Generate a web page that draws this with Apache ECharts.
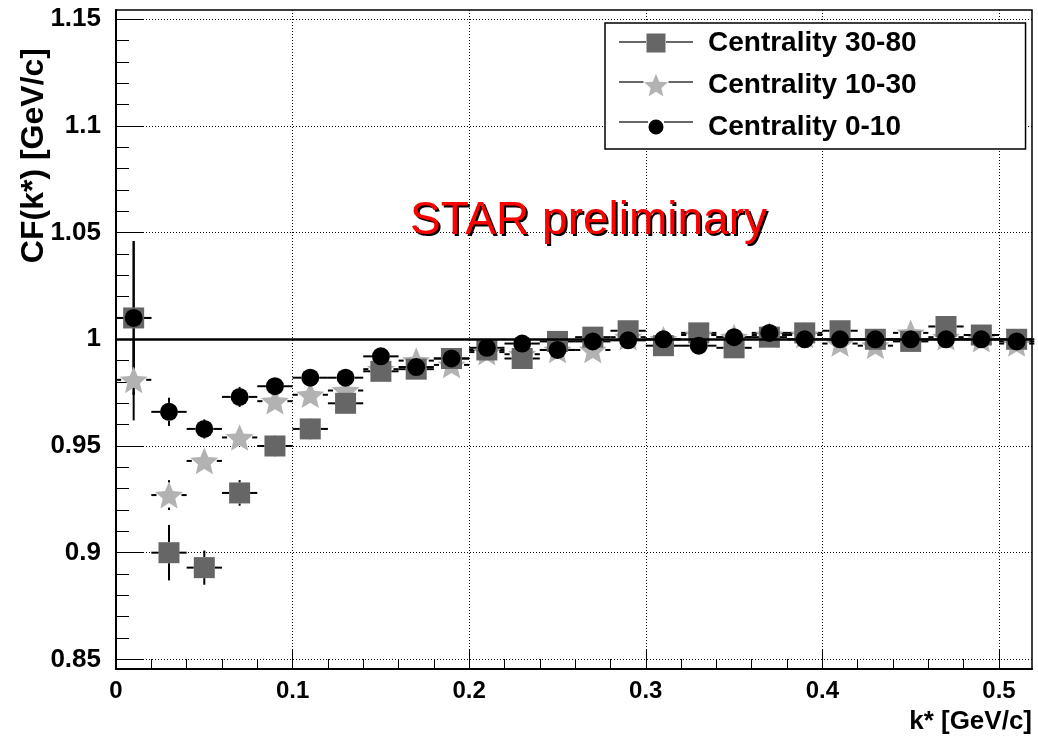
<!DOCTYPE html>
<html>
<head>
<meta charset="utf-8">
<script src="https://cdn.jsdelivr.net/npm/echarts@6/dist/echarts.min.js"></script>
<style>
html,body{margin:0;padding:0;background:#fff;}
#c{width:1038px;height:743px;}
</style>
</head>
<body>
<div id="c"></div>
<script>
// ---------------- data ----------------
const kStar = [0.01,0.03,0.05,0.07,0.09,0.11,0.13,0.15,0.17,0.19,0.21,0.23,0.25,0.27,0.29,0.31,0.33,0.35,0.37,0.39,0.41,0.43,0.45,0.47,0.49,0.51];
const seriesNames = ['Centrality 30-80','Centrality 10-30','Centrality 0-10'];

const cf3080  = [1.010,0.900,0.893,0.928,0.950,0.958,0.970,0.985,0.986,0.991,0.995,0.991,0.999,1.001,1.004,0.997,1.003,0.996,1.001,1.003,1.004,1.000,0.999,1.006,1.002,1.000];
const err3080 = [0.036,0.013,0.008,0.006,0.005,0.005,0.0045,0.004,0.004,0.004,0.004,0.004,0.0035,0.0035,0.0035,0.0035,0.0035,0.0035,0.0035,0.0035,0.0035,0.0035,0.0035,0.0035,0.0035,0.0035];

const cf1030  = [0.981,0.927,0.943,0.954,0.971,0.974,0.976,0.986,0.990,0.988,0.994,0.993,0.995,0.995,1.001,1.000,1.002,1.001,1.002,1.002,0.998,0.997,1.003,1.001,1.000,0.998];
const err1030 = [0.019,0.007,0.0055,0.0055,0.0055,0.005,0.0045,0.004,0.004,0.0035,0.0035,0.0035,0.003,0.003,0.003,0.003,0.003,0.003,0.003,0.003,0.003,0.003,0.003,0.003,0.003,0.003];

const cf010   = [1.010,0.966,0.958,0.973,0.978,0.982,0.982,0.992,0.987,0.991,0.996,0.998,0.995,0.999,0.9995,1.000,0.997,1.001,1.003,1.000,1.000,1.000,1.000,1.000,1.000,0.999];
const err010  = [0.036,0.0066,0.0045,0.0047,0.004,0.0035,0.0035,0.003,0.003,0.003,0.003,0.003,0.0028,0.0028,0.0028,0.0028,0.0028,0.0028,0.0028,0.0028,0.0028,0.0028,0.0028,0.0028,0.0028,0.0028];

const binHalfWidth = 0.01;

const yTicks = [0.85,0.9,0.95,1,1.05,1.1,1.15];
const yMinorTicks = [0.86,0.87,0.88,0.89,0.91,0.92,0.93,0.94,0.96,0.97,0.98,0.99,1.01,1.02,1.03,1.04,1.06,1.07,1.08,1.09,1.11,1.12,1.13,1.14];
const xTicks = [0,0.1,0.2,0.3,0.4,0.5];
const xMinorTicks = [0.02,0.04,0.06,0.08,0.12,0.14,0.16,0.18,0.22,0.24,0.26,0.28,0.32,0.34,0.36,0.38,0.42,0.44,0.46,0.48];

const xRange = [0, 0.5187];
const yRange = [0.8455, 1.1543];
const refLevel = 1;

// ---------------- styling ----------------
const FONT = 'Liberation Sans, Arial, Helvetica, sans-serif';
const starPath = 'path://M50,0L63.23,31.8L97.55,34.55L71.4,56.95L79.39,90.45L50,72.5L20.61,90.45L28.6,56.95L2.45,34.55L36.77,31.8Z';
const legendSquare = 'path://M0,0h0.01M26,26h0.01M3.5,3.5h19v19h-19z';
const legendCircle = 'path://M0,0h0.01M26,26h0.01M5.5,13a7.5,7.5 0 1,0 15,0a7.5,7.5 0 1,0 -15,0z';
const legendStar = 'path://M0,0h0.01M26,26h0.01M13,1.7L16.31,9.65L24.89,10.34L18.35,15.94L20.35,24.31L13,19.83L5.65,24.31L7.65,15.94L1.11,10.34L9.69,9.65Z';

const colSquare = '#666666';
const colStar = '#b2b2b2';
const colCircle = '#000000';

function errRender(gap) {
  return function (params, api) {
    const x = api.value(0), y = api.value(1), e = api.value(2);
    const c = api.coord([x, y]);
    const t = api.coord([x, y + e]);
    const b = api.coord([x, y - e]);
    const l = api.coord([x - binHalfWidth, y]);
    const r = api.coord([x + binHalfWidth, y]);
    const st = { stroke: '#000', lineWidth: 2 };
    const kids = [];
    if (c[1] - gap > t[1]) kids.push({ type: 'line', shape: { x1: c[0], y1: t[1], x2: c[0], y2: c[1] - gap }, style: st });
    if (b[1] > c[1] + gap) kids.push({ type: 'line', shape: { x1: c[0], y1: c[1] + gap, x2: c[0], y2: b[1] }, style: st });
    kids.push({ type: 'line', shape: { x1: l[0], y1: c[1], x2: c[0] - gap, y2: c[1] }, style: st });
    kids.push({ type: 'line', shape: { x1: c[0] + gap, y1: c[1], x2: r[0], y2: c[1] }, style: st });
    return { type: 'group', children: kids };
  };
}

function errData(cf, err) { return kStar.map((k, i) => [k, cf[i], err[i]]); }
function ptData(cf) { return kStar.map((k, i) => [k, cf[i]]); }

const chart = echarts.init(document.getElementById('c'), null, { renderer: 'canvas' });

const legendLeft = 605, legendTop = 23;
const rowY = [42, 82, 122];
const iconCx = 656;
const gaps = [10, 12.5, 8];
const legendLines = [];
rowY.forEach((y, i) => {
  legendLines.push({ type: 'line', z: 100, shape: { x1: 619, y1: y, x2: iconCx - gaps[i], y2: y }, style: { stroke: '#000', lineWidth: 1.2 } });
  legendLines.push({ type: 'line', z: 100, shape: { x1: iconCx + gaps[i], y1: y, x2: 693, y2: y }, style: { stroke: '#000', lineWidth: 1.2 } });
});

const stampStyle = { fontFamily: FONT, fontSize: 46, fontWeight: 'normal' };

const option = {
  backgroundColor: '#fff',
  animation: false,
  title: [
    {
      text: 'STAR preliminary', left: 407, top: 195, z: 3,
      textStyle: Object.assign({ color: '#000000' }, stampStyle)
    },
    {
      text: 'STAR preliminary', left: 405, top: 193, z: 4,
      textStyle: Object.assign({ color: '#ff0000' }, stampStyle)
    }
  ],
  grid: {
    left: 116, right: 6, top: 10, bottom: 74,
    show: true, borderColor: '#000', borderWidth: 1.5, backgroundColor: 'transparent'
  },
  legend: {
    orient: 'vertical',
    left: legendLeft, top: legendTop,
    padding: [6, 109, 8, 38],
    itemGap: 14,
    itemWidth: 26, itemHeight: 26,
    backgroundColor: '#fff',
    borderColor: '#000', borderWidth: 1.5,
    selectedMode: false,
    textStyle: { fontFamily: FONT, fontSize: 28, fontWeight: 'bold', color: '#000', lineHeight: 26, padding: [0, 0, 0, 34] },
    data: [
      { name: seriesNames[0], icon: legendSquare },
      { name: seriesNames[1], icon: legendStar },
      { name: seriesNames[2], icon: legendCircle }
    ]
  },
  graphic: legendLines,
  xAxis: [
    {
      type: 'value', min: xRange[0], max: xRange[1], position: 'bottom',
      name: 'k* [GeV/c]', nameLocation: 'end', nameGap: 0, nameMoveOverlap: false,
      nameTextStyle: { fontFamily: FONT, fontSize: 26, fontWeight: 'bold', color: '#000', align: 'right', verticalAlign: 'top', padding: [40, 0, 0, 0] },
      axisLine: { show: true, onZero: false, lineStyle: { color: '#000', width: 2 } },
      axisTick: { show: true, inside: true, length: 20, customValues: xTicks, lineStyle: { color: '#000', width: 1 } },
      axisLabel: { show: true, customValues: xTicks, margin: 10, fontFamily: FONT, fontSize: 24, fontWeight: 'bold', color: '#000', formatter: v => String(v) },
      splitLine: { show: true, lineStyle: { color: '#000', width: 1, type: [1, 2] } }
    },
    {
      type: 'value', min: xRange[0], max: xRange[1], position: 'bottom',
      axisLine: { show: false },
      axisTick: { show: true, inside: true, length: 10, customValues: xMinorTicks, lineStyle: { color: '#000', width: 1 } },
      axisLabel: { show: false },
      splitLine: { show: false }
    }
  ],
  yAxis: [
    {
      type: 'value', min: yRange[0], max: yRange[1], position: 'left',
      name: 'CF(k*) [GeV/c]', nameLocation: 'end', nameGap: 0, nameRotate: 90, nameMoveOverlap: false,
      nameTextStyle: { fontFamily: FONT, fontSize: 32, fontWeight: 'bold', color: '#000', align: 'right', verticalAlign: 'bottom', padding: [0, 38, 66, 0] },
      axisLine: { show: true, onZero: false, lineStyle: { color: '#000', width: 2 } },
      axisTick: { show: true, inside: true, length: 27, customValues: yTicks, lineStyle: { color: '#000', width: 1 } },
      axisLabel: { show: true, customValues: yTicks, margin: 15, fontFamily: FONT, fontSize: 26, fontWeight: 'bold', color: '#000', formatter: v => String(v) },
      splitLine: { show: true, lineStyle: { color: '#000', width: 1, type: [1, 2] } }
    },
    {
      type: 'value', min: yRange[0], max: yRange[1], position: 'left',
      axisLine: { show: false },
      axisTick: { show: true, inside: true, length: 13, customValues: yMinorTicks, lineStyle: { color: '#000', width: 1 } },
      axisLabel: { show: false },
      splitLine: { show: false }
    }
  ],
  series: [
    {
      name: 'ref', type: 'line', data: [], z: 1, silent: true,
      markLine: {
        silent: true, symbol: ['none', 'none'], label: { show: false },
        lineStyle: { color: '#000', width: 2.5, type: 'solid' },
        data: [{ yAxis: refLevel }]
      }
    },
    { name: 'err 10-30', type: 'custom', z: 2, renderItem: errRender(12.5), data: errData(cf1030, err1030), encode: { x: 0, y: 1 } },
    { name: seriesNames[1], type: 'scatter', z: 2, symbol: starPath, symbolSize: 28, symbolKeepAspect: true, itemStyle: { color: colStar, opacity: 1 }, data: ptData(cf1030) },
    { name: 'err 30-80', type: 'custom', z: 2, renderItem: errRender(10.5), data: errData(cf3080, err3080), encode: { x: 0, y: 1 } },
    { name: seriesNames[0], type: 'scatter', z: 2, symbol: 'rect', symbolSize: 21, itemStyle: { color: colSquare, opacity: 1 }, data: ptData(cf3080) },
    { name: 'err 0-10', type: 'custom', z: 2, renderItem: errRender(9), data: errData(cf010, err010), encode: { x: 0, y: 1 } },
    { name: seriesNames[2], type: 'scatter', z: 2, symbol: 'circle', symbolSize: 18, itemStyle: { color: colCircle, opacity: 1 }, data: ptData(cf010) }
  ]
};
chart.setOption(option);
</script>
</body>
</html>
